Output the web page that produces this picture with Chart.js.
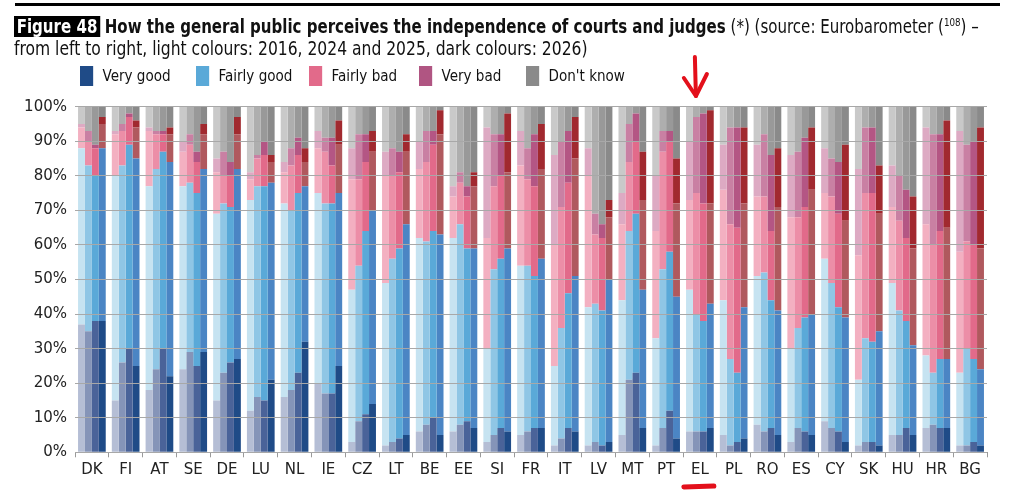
<!DOCTYPE html>
<html>
<head>
<meta charset="utf-8">
<script src="https://cdn.jsdelivr.net/npm/chart.js@4.4.1/dist/chart.umd.min.js"></script>
<style>
  html, body { margin: 0; padding: 0; background: #fff; }
  #wrap { position: relative; width: 1024px; height: 494px; overflow: hidden; }
  #chart { position: absolute; left: 0; top: 0; }
  .rule { position: absolute; left: 15px; top: 3px; width: 985px; height: 3px; background: #000; }
  .title { position: absolute; left: 14px; font-family: "Liberation Sans Narrow", "DejaVu Sans Condensed", sans-serif;
           font-size: 19px; line-height: 22px; color: #111; white-space: nowrap; transform-origin: 0 0; }
  .fig { display: inline-block; background: #000; color: #fff; font-weight: bold; padding: 0 3px; line-height: 21px; }
  .item { position: absolute; top: 66px; height: 20px; font-family: "Liberation Sans Narrow", "DejaVu Sans Condensed", sans-serif;
          font-size: 16px; line-height: 20px; color: #111; white-space: nowrap; transform-origin: 0 0; transform: scaleX(0.94); }
  .item span { display: inline-block; width: 14px; height: 20px; vertical-align: top; margin-right: 10px; }
</style>
</head>
<body>
<div id="wrap">
  <canvas id="chart" width="1024" height="494"></canvas>
  <div class="rule"></div>
  <div class="title" style="top:12px; transform: scaleX(0.88)"><span class="fig">Figure 48</span> <b>How the general public perceives the independence of courts and judges</b> (*) (source: Eurobarometer (<sup style="font-size:11px">108</sup>) –</div>
  <div class="title" style="top:37px; transform: scaleX(0.91)">from left to right, light colours: 2016, 2024 and 2025, dark colours: 2026)</div>
  <div id="legend"></div>
</div>
<script>
// pays dans l'ordre du graphique
const countries = ["DK","FI","AT","SE","DE","LU","NL","IE","CZ","LT","BE","EE","SI","FR","IT","LV","MT","PT","EL","PL","RO","ES","CY","SK","HU","HR","BG"];
const years = ["2016", "2024", "2025", "2026"];
const categories = ["Very good", "Fairly good", "Fairly bad", "Very bad", "Don't know"];

// 2016
const veryGood2016   = [37,15,18,24,15,12,16,20, 3, 2, 6, 6, 3, 5, 2, 2, 5, 2, 6, 5, 8, 3, 9, 2, 5, 7, 2];
const fairlyGood2016 = [51,65,59,53,54,61,56,55,44,47,56,56,27,49,23,40,39,31,41,39,43,27,47,19,44,21,21];
const fairlyBad2016  = [ 6,12,16,10,12, 6, 9,13,32,31,20,12,32,29,35,38,22,31,26,32,23,38,19,36,22,38,35];
const veryBad2016    = [ 1, 1, 1, 3, 4, 2, 3, 5, 9, 7, 8, 3,32,10,26, 8, 9,16,17,13,15,18,13,25,12,28,35];
const dontKnow2016   = [ 5, 7, 6,10,15,19,16, 7,12,13,10,23, 6, 7,14,12,25,20,10,11,11,14,12,18,17, 6, 7];
// 2024
const veryGood2024   = [35,26,24,29,23,16,18,17, 9, 3, 8, 8, 5, 6, 4, 3,21, 7, 6, 2, 6, 7, 7, 3, 5, 8, 2];
const fairlyGood2024 = [48,57,58,49,49,61,52,55,45,53,53,58,48,48,32,40,43,46,34,25,46,29,42,30,36,15,28];
const fairlyBad2024  = [ 7,10,10,11, 8, 8,13,15,25,24,23,12,24,25,35,20,20,34,35,39,22,32,25,42,26,37,31];
const veryBad2024    = [ 3, 2, 1, 3, 7, 1, 5, 4,13, 8, 9, 3,15, 9,19, 6,11, 6,22,28,18,19,11,19,13,32,28];
const dontKnow2024   = [ 7, 5, 7, 8,13,14,12, 9, 8,12, 7,19, 8,12,10,31, 5, 7, 3, 6, 8,13,15, 6,20, 8,11];
// 2025
const veryGood2025   = [38,30,30,25,26,15,23,17,11, 4,10, 9, 7, 7, 7, 2,23,12, 6, 3, 7, 6, 6, 3, 7, 7, 3];
const fairlyGood2025 = [42,59,57,50,45,62,52,55,53,55,54,50,49,44,39,39,46,46,32,20,37,33,36,29,31,20,24];
const fairlyBad2025  = [ 8, 8, 5, 9, 9, 9,11,11,20,22,25,15,24,26,32,21,21,32,34,42,20,32,27,43,24,37,33];
const veryBad2025    = [ 1, 1, 1, 3, 4, 4, 5, 8, 8, 6, 4, 3,12,15,15, 4, 8, 3,26,29,22,20,15,19,14,28,30];
const dontKnow2025   = [11, 2, 7,13,16,10, 9, 9, 8,13, 7,23, 8, 8, 7,34, 2, 7, 2, 6,14, 9,16, 6,24, 8,10];
// 2026
const veryGood2026   = [38,25,22,29,27,21,32,25,14, 5, 5, 7, 6, 7, 6, 3, 7, 4, 7, 4, 5, 5, 3, 2, 5, 7, 2];
const fairlyGood2026 = [50,60,62,53,55,57,45,50,56,61,58,52,53,49,45,47,40,41,36,38,36,35,36,33,26,20,22];
const fairlyBad2026  = [ 7, 9, 8,10,10, 6, 7,14,17,21,29,18,22,26,34,18,26,27,29,30,30,36,28,34,28,38,35];
const veryBad2026    = [ 2, 2, 2, 3, 5, 2, 4, 7, 6, 5, 7, 4,17,13,12, 5,14,13,27,22,17,18,22,14,15,31,35];
const dontKnow2026   = [ 3, 4, 6, 5, 3,14,12, 4, 7, 8, 1,19, 2, 5, 3,27,13,15, 1, 6,12, 6,11,17,26, 4, 6];

const seriesByYear = {
  "2016": [veryGood2016, fairlyGood2016, fairlyBad2016, veryBad2016, dontKnow2016],
  "2024": [veryGood2024, fairlyGood2024, fairlyBad2024, veryBad2024, dontKnow2024],
  "2025": [veryGood2025, fairlyGood2025, fairlyBad2025, veryBad2025, dontKnow2025],
  "2026": [veryGood2026, fairlyGood2026, fairlyBad2026, veryBad2026, dontKnow2026],
};

// couleurs claires pour 2016/2024/2025, foncées pour 2026
const shades = {
  "2016": ["#B5BED5", "#C6E3F1", "#F3B0C1", "#DDAAC3", "#C9C9C9"],
  "2024": ["#8594B8", "#8FC6E5", "#EC8EA7", "#C980A3", "#AEAEAE"],
  "2025": ["#4A6399", "#5AA9D8", "#E26A8A", "#B45684", "#999999"],
  "2026": ["#1F4B87", "#4B85C4", "#B0595E", "#A1292F", "#8A8A8A"],
};
const legendColors = ["#1F4B87", "#5AA9D8", "#E26A8A", "#B05582", "#8A8A8A"];
const legendLeft = [80, 196, 309, 419, 526];

// légende en HTML
const legendEl = document.getElementById("legend");
categories.forEach((cat, i) => {
  const div = document.createElement("div");
  div.className = "item";
  div.style.left = legendLeft[i] + "px";
  div.innerHTML = '<span style="background:' + legendColors[i] + '"></span>' + cat;
  legendEl.appendChild(div);
});

const datasets = [];
years.forEach((year) => {
  categories.forEach((cat, c) => {
    datasets.push({
      label: cat + " " + year,
      data: seriesByYear[year][c],
      backgroundColor: shades[year][c],
      stack: year,
      borderWidth: 0,
      barPercentage: 1,
      categoryPercentage: 0.82,
    });
  });
});

// flèche rouge et soulignement sous EL
const annotate = {
  id: "annotate",
  afterDraw(chart) {
    const x = chart.scales.x.getPixelForValue(countries.indexOf("EL"));
    const ctx = chart.ctx;
    ctx.save();
    ctx.strokeStyle = "#E3101B";
    ctx.lineCap = "round";
    ctx.lineJoin = "round";
    ctx.lineWidth = 4;
    ctx.beginPath();
    ctx.moveTo(x - 5, 57);
    ctx.lineTo(x - 4, 96);
    ctx.stroke();
    ctx.beginPath();
    ctx.moveTo(x - 16, 78);
    ctx.lineTo(x - 4, 96);
    ctx.lineTo(x + 7, 74);
    ctx.stroke();
    ctx.lineWidth = 5;
    ctx.beginPath();
    ctx.moveTo(x - 16, 487);
    ctx.lineTo(x + 14, 486);
    ctx.stroke();
    ctx.restore();
  },
};

new Chart(document.getElementById("chart"), {
  type: "bar",
  data: { labels: countries, datasets: datasets },
  options: {
    responsive: false,
    animation: false,
    layout: { padding: { top: 106.7, right: 37, left: 0, bottom: 0 } },
    scales: {
      x: {
        stacked: true,
        afterFit: (s) => { s.height = 41.7; },
        grid: { drawOnChartArea: false, drawTicks: true, tickLength: 5, color: "#9A9A9A", offset: true },
        border: { display: true, color: "#9A9A9A" },
        ticks: { color: "#222", font: { family: "DejaVu Sans", size: 15 }, padding: 4, maxRotation: 0, autoSkip: false },
      },
      y: {
        stacked: true,
        min: 0,
        max: 100,
        afterFit: (s) => { s.width = 75; },
        grid: { color: "#A8A8A8", drawTicks: false, z: 1 },
        border: { display: false },
        ticks: {
          stepSize: 10,
          padding: 8,
          color: "#222",
          font: { family: "DejaVu Sans", size: 15 },
          callback: (v) => v + "%",
        },
      },
    },
    plugins: {
      legend: { display: false },
      tooltip: { enabled: false },
    },
  },
  plugins: [annotate],
});
</script>
</body>
</html>
